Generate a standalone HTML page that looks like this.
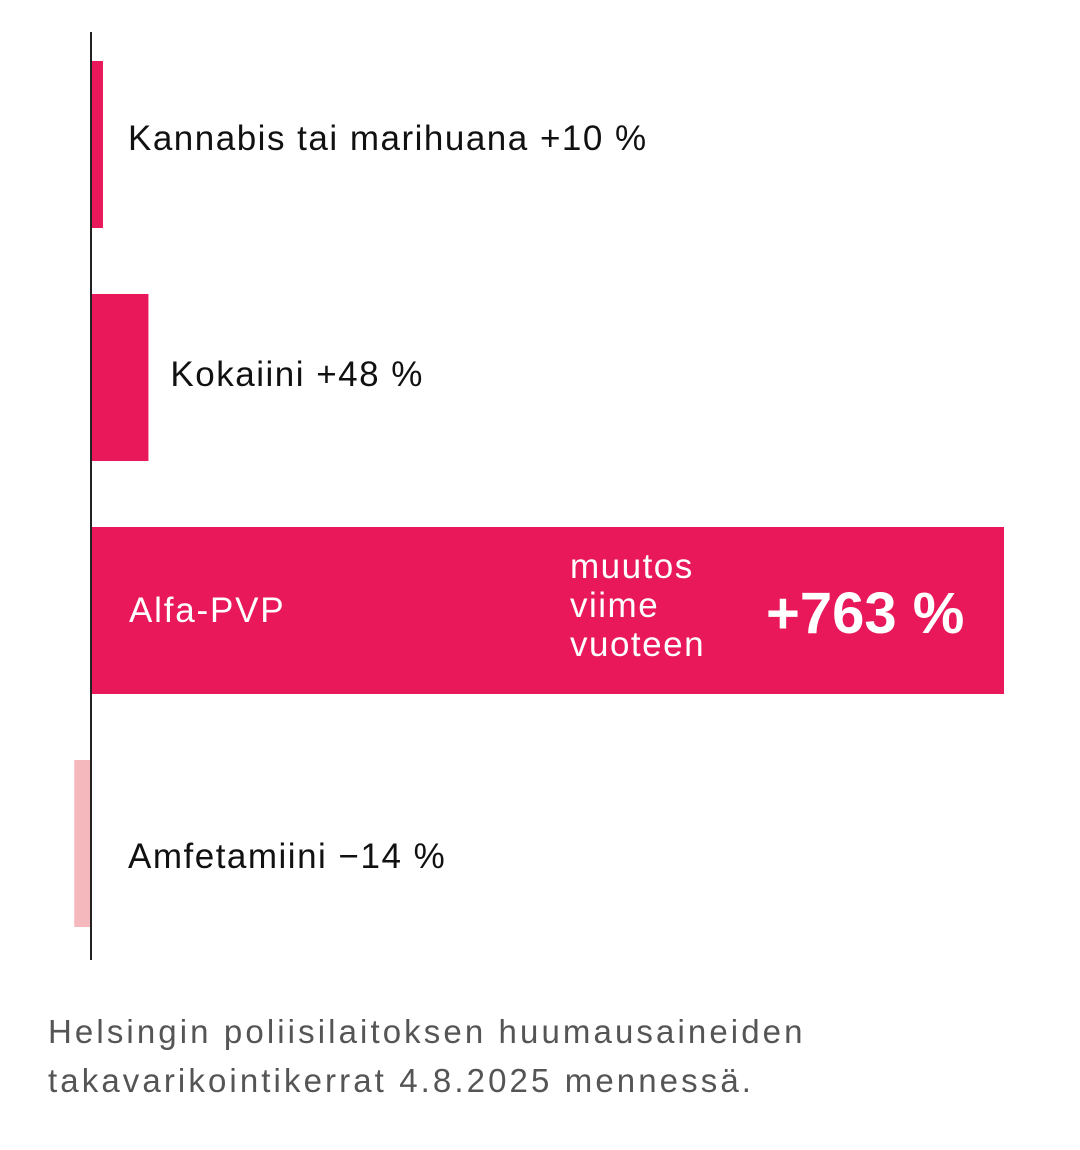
<!DOCTYPE html>
<html><head><meta charset="utf-8"><style>
html,body{margin:0;padding:0;background:#fff;width:1080px;height:1150px;overflow:hidden}
svg{display:block}
text{font-family:"Liberation Sans",sans-serif}
</style></head><body>
<svg id="chart" width="1080" height="1150">
<g id="bars"></g>
<line x1="91" y1="32" x2="91" y2="960" stroke="#222" stroke-width="2"/>
<text x="48" y="1043" font-size="33" letter-spacing="3.1" fill="#555">Helsingin poliisilaitoksen huumausaineiden</text>
<text x="48" y="1092" font-size="33" letter-spacing="3.1" fill="#555">takavarikointikerrat 4.8.2025 mennessä.</text>
</svg>
<script>
const categories = ["Kannabis tai marihuana", "Kokaiini", "Alfa-PVP", "Amfetamiini"];
const values = [10, 48, 763, -14];
const valueLabels = ["+10 %", "+48 %", "+763 %", "−14 %"];
const NS = "http://www.w3.org/2000/svg";
const x0 = 91, pxPer = 913 / 763;
const labelDy = [89, 92, 96, 108];
function xScale(v){ return x0 + v * pxPer; }
function yBand(i){ return 61 + i * 233; }
const bandH = 167;
const g = document.getElementById('bars');
function mk(tag, attrs, txt){
  const e = document.createElementNS(NS, tag);
  for (const k in attrs) e.setAttribute(k, attrs[k]);
  if (txt) e.textContent = txt;
  g.appendChild(e); return e;
}
categories.forEach((c, i) => {
  const v = values[i];
  const xa = Math.min(xScale(0), xScale(v)), xb = Math.max(xScale(0), xScale(v));
  const y = yBand(i);
  const r = mk('rect', {x: xa, y: y, width: xb - xa, height: bandH, fill: v < 0 ? '#f5b8bc' : '#e8185a'});
  
  
  const by = y + labelDy[i];
  if (i === 2) {
    const t = mk('text', {x: 129, y: by - 1, 'font-size': 35, 'letter-spacing': 1.8, fill: '#fff'}, c);
    
    
    ['muutos', 'viime', 'vuoteen'].forEach((w, j) => {
      const s = mk('text', {x: 570, y: y + 51 + j * 39, 'font-size': 35, 'letter-spacing': 1.5, fill: '#fff'}, w);
      
      
    });
    const b = mk('text', {x: 766, y: y + 106, 'font-size': 58, 'font-weight': 'bold', fill: '#fff'}, valueLabels[i]);
    
    
  } else {
    const lx = v > 0 ? xScale(v) + 22 : 128;
    const t = mk('text', {x: Math.max(lx, 128), y: by, 'font-size': 35, 'letter-spacing': 1.5, fill: '#111'}, c + ' ' + valueLabels[i]);
    
    
  }
});
</script>
</body></html>
